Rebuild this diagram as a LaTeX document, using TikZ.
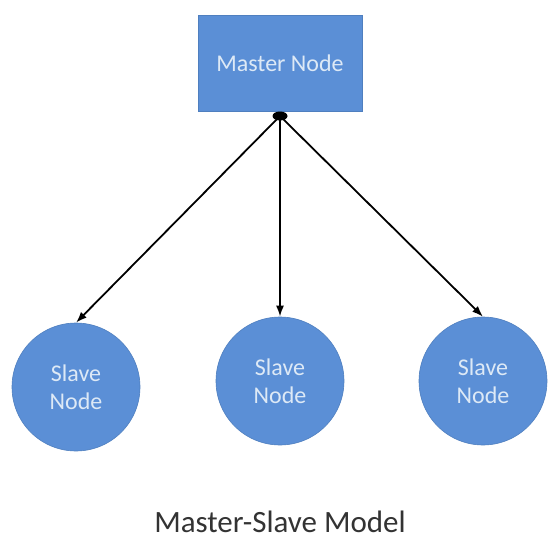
\documentclass[tikz,border=0pt]{standalone}
\usepackage{fontspec}
\setmainfont{Carlito}
\usetikzlibrary{arrows.meta,shapes.geometric}

\definecolor{nodeBlue}{HTML}{5B8FD6}
\definecolor{nodeEdge}{HTML}{4F7FBF}
\definecolor{nodeText}{HTML}{DDE9F6}
\definecolor{titleGray}{HTML}{333333}

\tikzset{
	masterbox/.style={rectangle, fill=nodeBlue, draw=nodeEdge, line width=0.6pt,
		minimum width=164pt, minimum height=96pt, inner sep=0pt,
		text=nodeText, font=\fontsize{24}{28}\selectfont},
	slavecircle/.style={circle, fill=nodeBlue, draw=nodeEdge, line width=0.6pt,
		minimum size=128pt, inner sep=0pt, align=center,
		text=nodeText, font=\fontsize{24}{28}\selectfont},
	link/.style={-{Latex[length=11pt,width=8pt]}, line width=1.8pt, black}
}

\begin{document}
\begin{tikzpicture}[x=1pt,y=-1pt]
		\newcommand*{\hubWidth}{15pt}
		\newcommand*{\hubHeight}{9pt}

		\useasboundingbox (0,0) rectangle (560,552);

		\coordinate(M) at	(280,63);
		\coordinate(H) at	(280,116);
		\coordinate(S1) at	(76,387);
		\coordinate(S2) at	(280,381);
		\coordinate(S3) at	(483,381);
		\coordinate(T) at	(280,522);

		\node (master) at (M)[masterbox]{Master Node};

		\node (slaveA) at (S1)[slavecircle]{Slave\\Node};
		\node (slaveB) at (S2)[slavecircle]{Slave\\Node};
		\node (slaveC) at (S3)[slavecircle]{Slave\\Node};

		\draw[link] (H) -- (slaveA.north);
		\draw[link] (H) -- (slaveB.north);
		\draw[link] (H) -- (slaveC.north);

		\node (hub) at (H)[ellipse,fill=black,inner sep=0pt,
			minimum width=\hubWidth,minimum height=\hubHeight]{};

		\node (title) at (T)[text=titleGray,font=\fontsize{31}{36}\selectfont]{Master-Slave Model};
\end{tikzpicture}
\end{document}
